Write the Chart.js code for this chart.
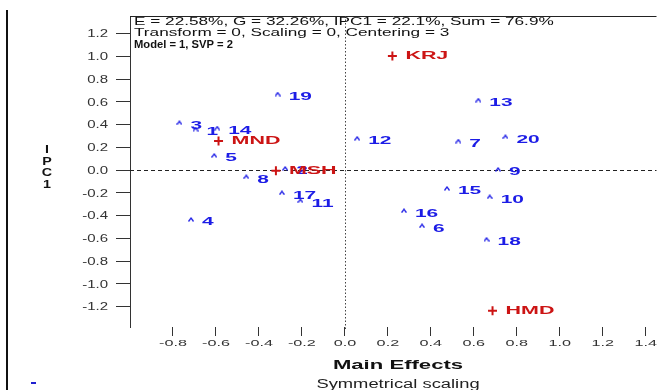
<!DOCTYPE html>
<html>
<head>
<meta charset="utf-8">
<script src="https://cdn.jsdelivr.net/npm/chart.js@4"></script>
<style>
  html, body { margin: 0; padding: 0; background: #fff; overflow: hidden; }
  canvas { display: block; }
</style>
</head>
<body>
<canvas id="biplot" width="663" height="390"></canvas>
<script>
// Genotypes (blue) - main effect vs IPC1 score
const genotypes = ['1','2','3','4','5','6','7','8','9','10','11','12','13','14','15','16','17','18','19','20'];
const genoMain = [-0.695, -0.278, -0.770, -0.716, -0.608, 0.359, 0.528, -0.459, 0.713, 0.674, -0.207, 0.057, 0.621, -0.594, 0.475, 0.275, -0.293, 0.659, -0.313, 0.747];
const genoIpc  = [ 0.360,  0.015,  0.416, -0.434,  0.129, -0.490, 0.255, -0.059, 0.006, -0.235, -0.270, 0.279, 0.615, 0.369, -0.161, -0.358, -0.200, -0.609, 0.668, 0.293];

// Environments (red)
const environments = ['KRJ', 'MND', 'MSH', 'HMD'];
const envMain = [0.221, -0.588, -0.321, 0.687];
const envIpc  = [1.002, 0.255, -0.006, -1.237];

// Axis ticks
const xTicks = [-0.8, -0.6, -0.4, -0.2, 0.0, 0.2, 0.4, 0.6, 0.8, 1.0, 1.2, 1.4];
const yTicks = [1.2, 1.0, 0.8, 0.6, 0.4, 0.2, 0.0, -0.2, -0.4, -0.6, -0.8, -1.0, -1.2];

const headerLines = [
  'E = 22.58%, G = 32.26%, IPC1 = 22.1%, Sum = 76.9%',
  'Transform = 0, Scaling = 0, Centering = 3',
  'Model = 1, SVP = 2'
];
const xTitle = 'Main Effects';
const xSubtitle = 'Symmetrical scaling';
const yTitle = 'IPC1';

const BLUE = '#1c1ce6';
const RED = '#cc1414';

// small caret marker used for genotypes
const caret = document.createElement('canvas');
caret.width = 6; caret.height = 5;
const cc = caret.getContext('2d');
cc.strokeStyle = BLUE; cc.lineWidth = 1.3;
cc.beginPath(); cc.moveTo(0.5, 4.5); cc.lineTo(3, 1.2); cc.lineTo(5.5, 4.5); cc.stroke();

// horizontally stretched text, like the original export
function sText(ctx, txt, x, y, font, color, align, sx) {
  ctx.save();
  ctx.font = font;
  ctx.fillStyle = color;
  ctx.textAlign = align;
  ctx.textBaseline = 'middle';
  ctx.translate(x, y);
  ctx.scale(sx, 1);
  ctx.fillText(txt, 0, 0);
  ctx.restore();
}

const fmt = v => (v < 0 ? '-' : '') + Math.abs(v).toFixed(1);

const decor = {
  id: 'decor',
  beforeDatasetsDraw(chart) {
    const { ctx, chartArea: a, scales: { x, y } } = chart;
    ctx.save();
    // frame pieces
    ctx.fillStyle = '#111';
    ctx.fillRect(6, 10, 2, 380);
    ctx.fillStyle = '#2020d0';
    ctx.fillRect(31, 382, 5, 2);
    ctx.strokeStyle = '#222';
    ctx.lineWidth = 1;
    ctx.beginPath();
    ctx.moveTo(a.left, Math.round(a.top) + 0.5);
    ctx.lineTo(a.right, Math.round(a.top) + 0.5);
    ctx.stroke();
    // zero lines
    const y0 = Math.round(y.getPixelForValue(0)) + 0.5;
    ctx.setLineDash([4, 3]);
    ctx.beginPath(); ctx.moveTo(a.left, y0); ctx.lineTo(a.right, y0); ctx.stroke();
    const x0 = Math.round(x.getPixelForValue(0)) + 0.5;
    ctx.strokeStyle = '#444';
    ctx.setLineDash([1.5, 2]);
    ctx.beginPath(); ctx.moveTo(x0, a.top); ctx.lineTo(x0, a.bottom + 4); ctx.stroke();
    ctx.restore();
  },
  afterDraw(chart) {
    const { ctx, scales: { x, y } } = chart;
    // tick labels
    xTicks.forEach(v => sText(ctx, fmt(v), x.getPixelForValue(v), 344, '9px "Liberation Sans"', '#333', 'center', 1.8));
    yTicks.forEach(v => sText(ctx, fmt(v), 108, y.getPixelForValue(v) + 1, '10px "Liberation Sans"', '#333', 'right', 1.5));
    // axis titles
    yTitle.split('').forEach((ch, i) => sText(ctx, ch, 47, 150 + i * 11.5, 'bold 11px "Liberation Sans"', '#111', 'center', 1.3));
    sText(ctx, xTitle, 398, 365, 'bold 13px "Liberation Sans"', '#111', 'center', 1.7);
    sText(ctx, xSubtitle, 398, 385, '12px "Liberation Sans"', '#222', 'center', 1.53);
    // header
    sText(ctx, headerLines[0], 134, 22.5, '10px "Liberation Sans"', '#111', 'left', 1.72);
    sText(ctx, headerLines[1], 134, 33.5, '10px "Liberation Sans"', '#111', 'left', 1.72);
    sText(ctx, headerLines[2], 134, 45, 'bold 10px "Liberation Sans"', '#111', 'left', 1.12);
    // point labels
    genotypes.forEach((g, i) => {
      sText(ctx, g, x.getPixelForValue(genoMain[i]) + 11, y.getPixelForValue(genoIpc[i]) + 3, 'bold 11px "Liberation Sans"', BLUE, 'left', 1.9);
    });
    environments.forEach((e, i) => {
      sText(ctx, e, x.getPixelForValue(envMain[i]) + 13, y.getPixelForValue(envIpc[i]), 'bold 11px "Liberation Sans"', RED, 'left', 1.95);
    });
  }
};

new Chart(document.getElementById('biplot'), {
  type: 'scatter',
  data: {
    datasets: [
      {
        label: 'Genotypes',
        data: genotypes.map((g, i) => ({ x: genoMain[i], y: genoIpc[i] })),
        pointStyle: caret,
        pointRadius: 3
      },
      {
        label: 'Environments',
        data: environments.map((e, i) => ({ x: envMain[i], y: envIpc[i] })),
        pointStyle: 'cross',
        pointRadius: 4.5,
        borderWidth: 2,
        borderColor: RED,
        backgroundColor: RED
      }
    ]
  },
  options: {
    responsive: false,
    animation: false,
    devicePixelRatio: 1,
    events: [],
    layout: { padding: { left: 0, right: 0, top: 16, bottom: 0 } },
    plugins: { legend: { display: false }, tooltip: { enabled: false } },
    scales: {
      x: {
        type: 'linear',
        min: -1.0,
        max: 1.45,
        afterBuildTicks: s => { s.ticks = xTicks.map(v => ({ value: v })); },
        afterFit: s => { s.height = 63; },
        border: { display: false },
        grid: { drawOnChartArea: false, drawTicks: true, tickLength: 9, color: '#333' },
        ticks: { display: false }
      },
      y: {
        type: 'linear',
        min: -1.38,
        max: 1.354,
        afterBuildTicks: s => { s.ticks = yTicks.map(v => ({ value: v })); },
        afterFit: s => { s.width = 130; },
        border: { display: true, color: '#333', width: 1 },
        grid: { drawOnChartArea: false, drawTicks: true, tickLength: 14, color: '#333' },
        ticks: { display: false }
      }
    }
  },
  plugins: [decor]
});
</script>
</body>
</html>
